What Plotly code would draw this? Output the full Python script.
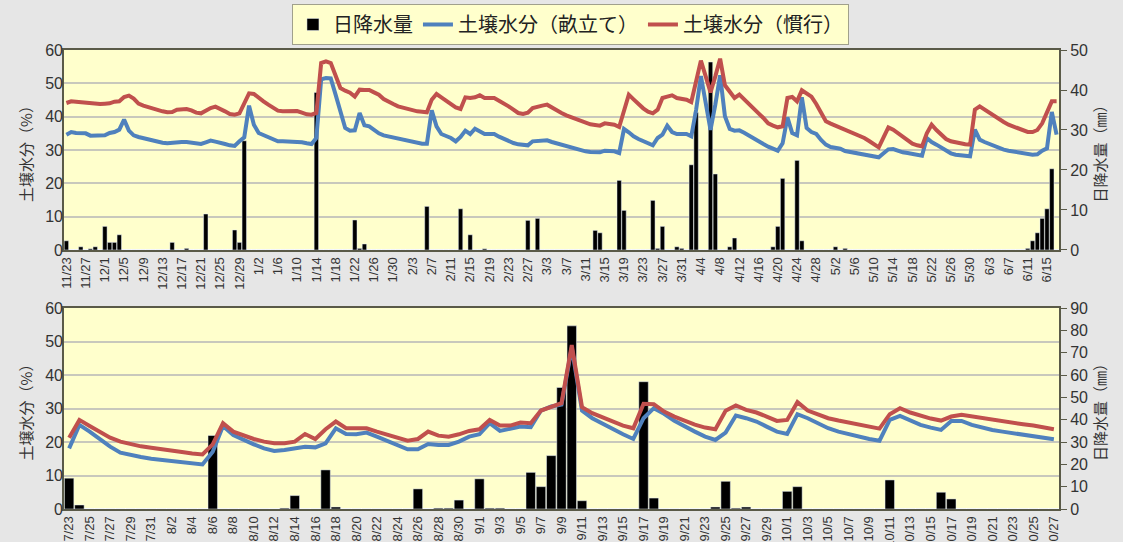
import plotly.graph_objects as go
import pandas as pd

# ---------------- data : top panel (11/23 - 6/17) ----------------
top_start = "2014-11-23"
top_days = 207
top_dates = [f"{d.month}/{d.day}" for d in pd.date_range(top_start, periods=top_days)]

top_rain_idx = [0, 3, 5, 6, 8, 9, 10, 11, 22, 25, 29, 35, 36, 37, 52, 60, 61, 62, 75, 82, 84, 87,
                96, 98, 110, 111, 115, 116, 122, 123, 124, 127, 128, 130, 131, 134, 135, 138, 139,
                147, 148, 149, 152, 153, 160, 162, 200, 201, 202, 203, 204, 205]
top_rain_val = [2.3, 0.8, 0.3, 0.8, 5.9, 1.9, 1.9, 3.8, 1.9, 0.4, 9.0, 5.0, 1.9, 27.3, 39.4, 7.5, 0.4, 1.5,
                10.9, 10.3, 3.8, 0.3, 7.4, 7.9, 4.9, 4.3, 17.4, 9.9, 12.4, 0.4, 5.9, 0.8, 0.4, 21.3, 34.4,
                47.0, 19.0, 0.8, 3.0, 0.8, 5.9, 17.9, 22.4, 2.3, 0.8, 0.4, 0.4, 2.3, 4.3, 7.9, 10.3, 20.3]

top_ridge = [34.6, 35.4, 35.1, 35.0, 35.0, 34.3, 34.3, 34.3, 34.4, 35.1,
             35.4, 36.1, 39.1, 35.8, 34.4, 33.9, 33.5, 33.1, 32.7, 32.4,
             32.2, 32.0, 32.2, 32.4, 32.4, 32.4, 32.1, 31.9, 31.8, 32.3,
             32.8, 32.5, 32.3, 31.8, 31.4, 31.2, 32.6, 33.8, 43.3, 37.6,
             35.1, 34.4, 33.8, 33.2, 32.6, 32.6, 32.6, 32.6, 32.6, 32.3,
             32.0, 31.8, 33.6, 51.2, 51.6, 51.5, 46.6, 41.1, 36.6, 35.8,
             35.9, 41.1, 37.4, 37.1, 35.9, 35.0, 34.4, 34.1, 33.6, 33.2,
             32.9, 32.6, 32.4, 32.0, 31.9, 31.9, 41.9, 37.1, 34.8, 34.2,
             33.6, 32.6, 33.9, 35.8, 34.8, 36.4, 35.6, 34.8, 34.8, 34.8,
             34.0, 33.3, 32.7, 32.1, 31.7, 31.4, 31.4, 32.6, 32.7, 32.8,
             32.9, 32.4, 32.0, 31.4, 30.9, 30.5, 30.1, 29.9, 29.6, 29.4,
             29.3, 29.3, 29.8, 29.7, 29.6, 29.1, 36.3, 35.3, 34.1, 33.3,
             32.6, 32.0, 31.4, 33.6, 34.6, 37.3, 35.4, 34.8, 34.8, 34.8,
             34.1, 42.0, 52.2, 43.6, 36.0, 43.6, 52.4, 40.1, 36.3, 35.8,
             35.9, 35.2, 34.3, 33.3, 32.5, 31.8, 31.0, 30.3, 29.8, 32.0,
             39.8, 35.1, 34.4, 45.8, 36.6, 35.4, 34.8, 33.0, 31.6, 30.9,
             30.6, 30.4, 29.7, 29.4, 29.2, 29.0, 28.6, 28.4, 28.1, 27.8,
             29.0, 30.2, 30.3, 29.7, 29.3, 29.1, 28.8, 28.5, 28.3, 33.6,
             32.4, 31.6, 30.7, 30.0, 29.0, 28.6, 28.4, 28.2, 28.1, 36.1,
             33.1, 32.4, 31.8, 31.3, 30.6, 30.1, 29.8, 29.5, 29.3, 29.0,
             28.6, 28.6, 28.7, 29.8, 30.5, 41.4, 34.6]

top_conv = [44.1, 44.6, 44.5, 44.4, 44.2, 43.9, 43.8, 43.8, 43.9, 44.0,
            44.5, 44.6, 45.9, 46.3, 45.4, 43.9, 43.3, 42.8, 42.3, 41.9,
            41.6, 41.3, 41.4, 42.1, 42.2, 42.3, 41.9, 41.2, 41.0, 41.9,
            42.6, 43.0, 42.4, 41.6, 40.8, 40.6, 41.0, 44.1, 47.0, 46.8,
            45.6, 44.6, 43.6, 42.6, 41.8, 41.6, 41.6, 41.7, 41.7, 41.2,
            40.7, 40.6, 41.1, 56.1, 56.6, 56.1, 52.1, 48.6, 47.8, 47.2,
            46.0, 48.1, 48.0, 48.0, 47.3, 46.6, 45.3, 44.4, 43.8, 43.1,
            42.7, 42.4, 42.1, 41.6, 41.5, 41.3, 45.1, 46.8, 45.8, 44.8,
            43.8, 42.8, 42.3, 45.8, 45.6, 45.8, 46.4, 45.6, 45.6, 45.6,
            44.8, 44.1, 43.1, 42.1, 41.1, 40.8, 41.2, 42.6, 43.1, 43.3,
            43.6, 42.7, 41.8, 41.1, 40.4, 39.9, 39.4, 38.6, 38.1, 37.7,
            37.5, 37.3, 38.0, 37.9, 37.6, 36.9, 41.6, 46.6, 45.2, 43.8,
            42.5, 41.5, 41.0, 42.1, 45.6, 46.0, 46.4, 45.6, 45.3, 45.1,
            44.4, 50.5, 56.8, 52.1, 47.3, 52.1, 57.4, 49.4, 47.6, 45.6,
            46.6, 45.3, 44.0, 42.6, 41.0, 39.6, 38.0, 37.3, 36.8, 37.1,
            45.6, 45.9, 44.6, 47.9, 47.1, 46.0, 43.8, 41.0, 38.6, 37.9,
            37.3, 36.9, 36.2, 35.5, 34.9, 34.4, 33.6, 32.7, 31.8, 30.8,
            33.8, 36.8, 36.1, 35.0, 33.8, 32.9, 31.9, 31.4, 31.1, 35.0,
            37.6, 36.0, 34.6, 33.3, 32.6, 32.2, 31.9, 31.7, 31.6, 42.1,
            43.1, 42.1, 41.2, 40.3, 39.2, 38.4, 37.6, 37.0, 36.5, 36.0,
            35.4, 35.4, 36.0, 38.0, 41.0, 44.6, 44.6]

# ---------------- data : bottom panel (7/23 - 10/27) ----------------
bot_start = "2015-07-23"
bot_days = 97
bot_dates = [f"{d.month}/{d.day}" for d in pd.date_range(bot_start, periods=bot_days)]

bot_rain_idx = [0, 1, 14, 21, 22, 25, 26, 34, 36, 37, 38, 40, 41, 42, 45, 46, 47, 48, 49, 50,
                56, 57, 63, 64, 65, 66, 70, 71, 80, 85, 86]
bot_rain_val = [13.8, 1.8, 32.9, 0.4, 6.0, 17.5, 0.9, 9.0, 0.4, 0.4, 4.0, 13.5, 0.4, 0.4, 16.4, 10.0,
                23.9, 54.4, 82.0, 3.7, 57.0, 4.9, 0.9, 12.4, 0.4, 0.9, 7.9, 10.0, 13.0, 7.5, 4.5]

bot_ridge = [18.1, 25.1, 23.1, 20.9, 18.6, 16.8, 16.0, 15.5, 15.0, 14.7,
             14.3, 14.0, 13.7, 13.3, 17.1, 24.8, 22.1, 20.6, 19.3, 18.1,
             17.3, 17.6, 18.1, 18.6, 18.4, 19.6, 24.1, 22.4, 22.3, 22.8,
             21.6, 20.4, 19.1, 17.8, 17.8, 19.4, 19.1, 19.1, 20.1, 21.6,
             22.3, 25.6, 23.3, 23.8, 24.6, 24.4, 29.4, 30.6, 31.2, 48.2,
             29.4, 27.1, 25.4, 23.8, 22.3, 20.9, 27.1, 30.1, 28.4, 26.3,
             24.6, 23.1, 21.6, 20.6, 22.8, 27.9, 27.1, 26.1, 24.6, 23.1,
             22.4, 28.3, 27.1, 25.6, 24.1, 23.1, 22.3, 21.6, 20.9, 20.4,
             26.6, 27.8, 26.3, 25.1, 24.3, 23.6, 26.3, 26.3, 25.1, 24.3,
             23.6, 23.1, 22.6, 22.2, 21.8, 21.3, 20.8]

bot_conv = [21.3, 26.6, 24.8, 22.9, 21.3, 20.1, 19.3, 18.7, 18.3, 17.8,
            17.4, 17.0, 16.6, 16.3, 19.3, 25.6, 23.1, 21.9, 20.9, 20.1,
            19.6, 19.6, 20.1, 22.4, 20.9, 23.8, 26.1, 24.1, 24.0, 24.1,
            23.1, 22.1, 21.1, 20.4, 20.9, 23.1, 21.9, 21.6, 22.3, 23.3,
            23.8, 26.6, 24.9, 24.9, 25.8, 25.6, 29.4, 30.6, 31.6, 48.9,
            30.4, 28.6, 27.3, 26.1, 24.9, 24.1, 31.4, 31.3, 29.1, 27.6,
            26.3, 25.2, 24.3, 23.8, 29.3, 30.9, 29.6, 28.8, 27.6, 26.3,
            26.6, 31.9, 29.4, 28.1, 27.1, 26.4, 25.8, 25.1, 24.4, 24.0,
            28.3, 30.1, 28.8, 27.8, 27.0, 26.4, 27.6, 28.1, 27.6, 27.1,
            26.6, 26.1, 25.8, 25.3, 24.9, 24.4, 23.8]

top_rain = [0.0] * top_days
for k, v in zip(top_rain_idx, top_rain_val):
    top_rain[k] = v
bot_rain = [0.0] * bot_days
for k, v in zip(bot_rain_idx, bot_rain_val):
    bot_rain[k] = v

# ---------------- styling ----------------
BLUE = "#4F81BD"
RED = "#C0504D"
TICK_FONT = dict(family="Liberation Sans Narrow, Liberation Sans, Arial, sans-serif", size=16, color="#333333")
XTICK_FONT = dict(family="Liberation Sans Narrow, Liberation Sans, Arial, sans-serif", size=13, color="#333333")
JP = "Noto Sans CJK JP, sans-serif"
BORDER = "#5A5A48"
GRID = "#C8C8BC"

fig = go.Figure()

# bars (base axes = rainfall, right side)
fig.add_trace(go.Bar(x=top_dates, y=top_rain, name="日降水量", marker_color="black",
                     width=0.92, xaxis="x", yaxis="y", showlegend=True))
fig.add_trace(go.Bar(x=bot_dates, y=bot_rain, name="日降水量", marker_color="black",
                     width=0.92, xaxis="x2", yaxis="y2", showlegend=False))

# lines (overlaying axes = soil moisture, left side)
fig.add_trace(go.Scatter(x=top_dates, y=top_ridge, name="土壌水分（畝立て）", mode="lines",
                         line=dict(color=BLUE, width=4), xaxis="x", yaxis="y3"))
fig.add_trace(go.Scatter(x=top_dates, y=top_conv, name="土壌水分（慣行）", mode="lines",
                         line=dict(color=RED, width=4), xaxis="x", yaxis="y3"))
fig.add_trace(go.Scatter(x=bot_dates, y=bot_ridge, name="土壌水分（畝立て）", mode="lines",
                         line=dict(color=BLUE, width=4), xaxis="x2", yaxis="y4", showlegend=False))
fig.add_trace(go.Scatter(x=bot_dates, y=bot_conv, name="土壌水分（慣行）", mode="lines",
                         line=dict(color=RED, width=4), xaxis="x2", yaxis="y4", showlegend=False))

top_dom = [0.5643, 1.0]
bot_dom = [0.0, 0.4379]

xcommon = dict(type="category", showgrid=False, tickangle=-90, tickfont=XTICK_FONT,
               showline=True, linecolor=BORDER, linewidth=2, mirror=True, ticks="",
               automargin=False)

fig.update_layout(
    width=1123, height=542,
    paper_bgcolor="#E6E6E6", plot_bgcolor="#FFFFCC",
    margin=dict(l=64, r=64, t=50, b=33, autoexpand=False),
    showlegend=True,
    legend=dict(orientation="h", x=0.509, xanchor="center", y=1.0556, yanchor="middle",
                bgcolor="#FFFFCC", bordercolor="#A0A08C", borderwidth=1,
                font=dict(family=JP, size=20, color="#222222"), traceorder="normal"),
    xaxis=dict(domain=[0, 1], anchor="y", range=[-0.5, top_days - 0.5],
               tickmode="array", tickvals=top_dates[::4], ticktext=top_dates[::4], **xcommon),
    xaxis2=dict(domain=[0, 1], anchor="y2", range=[-0.5, bot_days - 0.5],
                tickmode="array", tickvals=bot_dates[::2], ticktext=bot_dates[::2], **xcommon),
    yaxis=dict(domain=top_dom, anchor="x", side="right", range=[0, 50], dtick=10,
               showgrid=False, tickfont=TICK_FONT, ticks="outside", ticklen=6, tickcolor=BORDER,
               showline=True, linecolor=BORDER, linewidth=2, mirror=True, automargin=False,
               title=dict(text="日降水量（㎜）", font=dict(family=JP, size=15, color="#333333"), standoff=8)),
    yaxis3=dict(overlaying="y", anchor="x", side="left", range=[0, 60], dtick=10,
                showgrid=True, gridcolor=GRID, gridwidth=1.5, tickfont=TICK_FONT, zeroline=False,
                automargin=False,
                title=dict(text="土壌水分（%）", font=dict(family=JP, size=15, color="#333333"), standoff=8)),
    yaxis2=dict(domain=bot_dom, anchor="x2", side="right", range=[0, 90], dtick=10,
                showgrid=False, tickfont=TICK_FONT, ticks="outside", ticklen=6, tickcolor=BORDER,
                showline=True, linecolor=BORDER, linewidth=2, mirror=True, automargin=False,
                title=dict(text="日降水量（㎜）", font=dict(family=JP, size=15, color="#333333"), standoff=8)),
    yaxis4=dict(overlaying="y2", anchor="x2", side="left", range=[0, 60], dtick=10,
                showgrid=True, gridcolor=GRID, gridwidth=1.5, tickfont=TICK_FONT, zeroline=False,
                automargin=False,
                title=dict(text="土壌水分（%）", font=dict(family=JP, size=15, color="#333333"), standoff=8)),
)

fig.write_html("out.html", config={"displayModeBar": False},
               post_script="document.body.style.margin='0';document.body.style.overflow='hidden';")
